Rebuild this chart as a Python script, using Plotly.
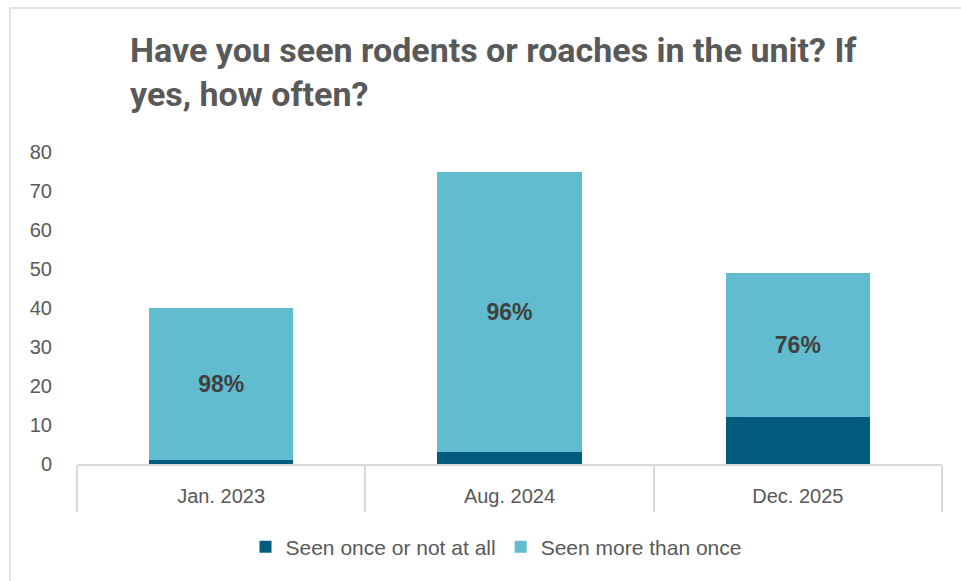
import plotly.graph_objects as go

# Survey rounds and responses (counts of households)
periods = ["Jan. 2023", "Aug. 2024", "Dec. 2025"]
seen_once_or_not = [1, 3, 12]
seen_more_than_once = [39, 72, 37]
series_names = ["Seen once or not at all", "Seen more than once"]
y_ticks = [0, 10, 20, 30, 40, 50, 60, 70, 80]

DARK = "#005B7C"
LIGHT = "#60BCCE"
GRID_GRAY = "#D9D9D9"
TEXT_GRAY = "#595959"

# Share of "seen more than once" in each round, shown inside the upper segment
share_labels = []
for a, b in zip(seen_once_or_not, seen_more_than_once):
    pct = 100.0 * b / (a + b)
    share_labels.append(f"{int(pct + 0.5)}%")

fig = go.Figure()
fig.add_trace(go.Bar(
    name=series_names[0], x=periods, y=seen_once_or_not,
    marker=dict(color=DARK, line=dict(width=0)),
    hoverinfo="x+y",
))
fig.add_trace(go.Bar(
    name=series_names[1], x=periods, y=seen_more_than_once,
    marker=dict(color=LIGHT, line=dict(width=0)),
    text=share_labels, textposition="inside", insidetextanchor="middle",
    textangle=0,
    textfont=dict(family="Liberation Sans", size=23, color="#404040", weight="bold"),
    hoverinfo="x+y",
))

fig.update_layout(
    barmode="stack",
    bargap=0.5,
    width=961, height=581,
    margin=dict(l=77, r=19, t=152, b=117),
    paper_bgcolor="white", plot_bgcolor="white",
    font=dict(family="Liberation Sans", size=19, color=TEXT_GRAY),
    title=dict(
        text="Have you seen rodents or roaches in the unit? If<br>yes, how often?",
        font=dict(family="Roboto", size=34, color=TEXT_GRAY, weight="bold"),
        x=(130 - 77) / 865, xref="paper", xanchor="left",
        y=1 - 62 / 581, yref="container", yanchor="top",
    ),
    showlegend=True,
    legend=dict(
        orientation="h", x=(496 - 77) / 865, xanchor="center", y=-0.266, yanchor="middle",
        font=dict(family="Liberation Sans", size=21, color=TEXT_GRAY),
        traceorder="normal", itemsizing="constant",
    ),
    xaxis=dict(
        type="category",
        showline=True, linecolor=GRID_GRAY, linewidth=1.5,
        ticks="outside", tickson="boundaries", ticklen=46,
        tickcolor=GRID_GRAY, tickwidth=1.5,
        ticklabelstandoff=13,
        tickfont=dict(family="Liberation Sans", size=20, color=TEXT_GRAY),
        showgrid=False, zeroline=False,
    ),
    yaxis=dict(
        range=[0, 80], tickvals=y_ticks,
        showgrid=False, zeroline=False, showline=False,
        ticks="", ticklabelstandoff=24,
        tickfont=dict(family="Liberation Sans", size=20, color=TEXT_GRAY),
    ),
    shapes=[dict(
        type="rect", xref="paper", yref="paper",
        x0=(10 - 77) / 865, x1=(975 - 77) / 865,
        y0=(464 - 600) / 312, y1=(464 - 8) / 312,
        line=dict(color=GRID_GRAY, width=1.5), fillcolor="rgba(0,0,0,0)",
        layer="below",
    )],
)

fig.write_html("out.html")
